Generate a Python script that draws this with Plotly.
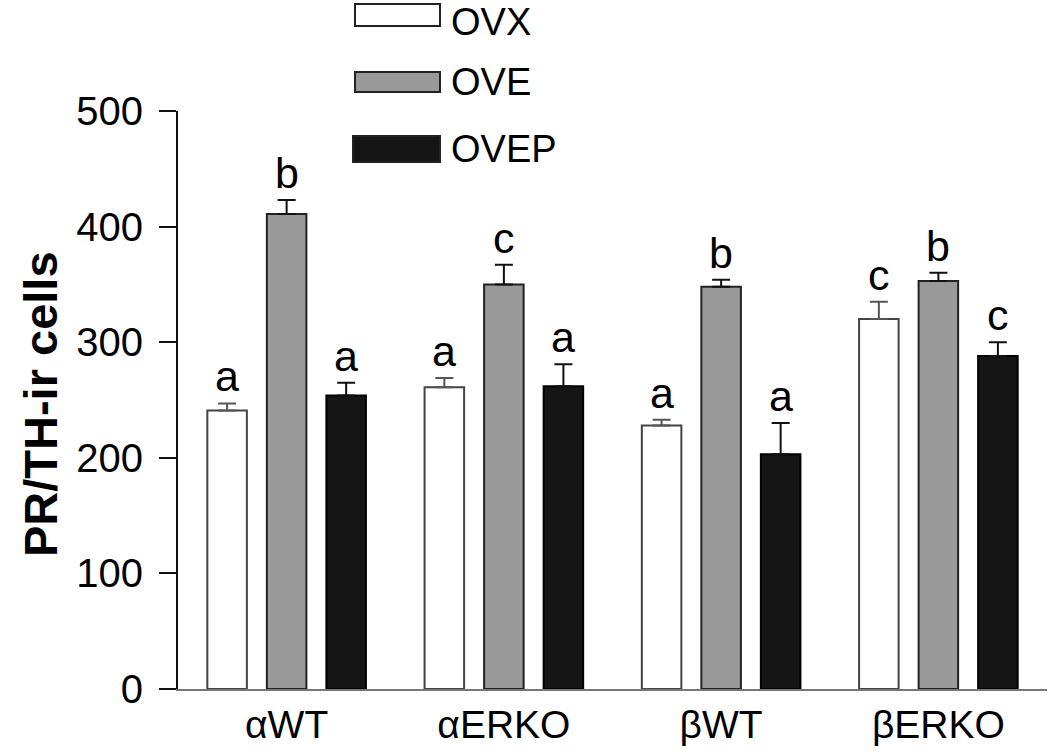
import plotly.graph_objects as go

# ---------------- data ----------------
categories = ["αWT", "αERKO", "βWT", "βERKO"]
series_names = ["OVX", "OVE", "OVEP"]
ovx_values = [241, 261, 228, 320]
ovx_errors = [6, 8, 5, 15]
ove_values = [411, 350, 348, 353]
ove_errors = [12, 17, 6, 7]
ovep_values = [254, 262, 203, 288]
ovep_errors = [11, 19, 27, 12]
ovx_letters = ["a", "a", "a", "c"]
ove_letters = ["b", "c", "b", "b"]
ovep_letters = ["a", "a", "a", "c"]
y_ticks = [0, 100, 200, 300, 400, 500]

# ---------------- styles ----------------
FONT = "Liberation Sans, Arial, Helvetica, sans-serif"
fills = ["#ffffff", "#999999", "#151515"]
outlines = ["#444444", "#222222", "#000000"]
err_colors = ["#555555", "#111111", "#111111"]
SLOT = 0.274
BAR_W = 0.182

values = [ovx_values, ove_values, ovep_values]
errors = [ovx_errors, ove_errors, ovep_errors]
letters = [ovx_letters, ove_letters, ovep_letters]

fig = go.Figure()
annotations = []
for k, name in enumerate(series_names):
    xs = [i + (k - 1) * SLOT for i in range(len(categories))]
    fig.add_trace(go.Bar(
        x=xs, y=values[k], width=BAR_W, name=name,
        marker=dict(color=fills[k], line=dict(color=outlines[k], width=2)),
        error_y=dict(type="data", array=errors[k], arrayminus=[0] * len(errors[k]),
                     symmetric=False, color=err_colors[k], thickness=2, width=9),
        showlegend=False,
    ))
    for x, v, e, t in zip(xs, values[k], errors[k], letters[k]):
        annotations.append(dict(
            x=x, y=v + e, xref="x", yref="y", text=t, showarrow=False,
            yanchor="bottom", yshift=1, font=dict(family=FONT, size=43, color="#000")))

# custom legend (long rectangles like the original)
shapes = []
legend_rows = [((689 - 4) / 578, (689 - 26) / 578),
               ((689 - 72) / 578, (689 - 92) / 578),
               ((689 - 136) / 578, (689 - 162) / 578)]
for k, (top, bot) in enumerate(legend_rows):
    x0 = (355 - 178) / 869 if k < 2 else (353 - 178) / 869
    shapes.append(dict(type="rect", xref="paper", yref="paper", x0=x0, x1=(440 - 178) / 869,
                       y0=bot, y1=top, fillcolor=fills[k],
                       line=dict(color="#222222", width=2)))
    if k == 0:
        ty, anchor = (689 - 0) / 578, "top"
    else:
        ty, anchor = (top + bot) / 2, "middle"
    annotations.append(dict(x=(450 - 178) / 869, y=ty, xref="paper", yref="paper",
                            text=series_names[k], showarrow=False, xanchor="left",
                            yanchor=anchor, borderpad=0,
                            font=dict(family=FONT, size=38, color="#000")))

# y axis title
annotations.append(dict(x=(40 - 178) / 869, y=0.493, xref="paper", yref="paper",
                        text="<b>PR/TH-ir cells</b>", textangle=-90, showarrow=False,
                        xanchor="center", yanchor="middle",
                        font=dict(family=FONT, size=47, color="#000")))

fig.update_layout(
    width=1050, height=754,
    margin=dict(l=178, r=3, t=111, b=65),
    paper_bgcolor="white", plot_bgcolor="white",
    barmode="overlay",
    showlegend=False,
    shapes=shapes,
    annotations=annotations,
    xaxis=dict(range=[-0.5, 3.5], tickmode="array", tickvals=list(range(len(categories))),
               ticktext=categories, showgrid=False, zeroline=False,
               showline=True, linecolor="#777777", linewidth=2, ticks="",
               tickfont=dict(family=FONT, size=39, color="#000"), ticklabelstandoff=0),
    yaxis=dict(range=[0, 500], tickmode="array", tickvals=y_ticks, showgrid=False,
               zeroline=False, showline=True, linecolor="#111111", linewidth=2,
               ticks="outside", ticklen=17, tickwidth=2, tickcolor="#111111",
               tickfont=dict(family=FONT, size=40, color="#000"), ticklabelstandoff=8),
)

fig.write_html("out.html", config={"displayModeBar": False},
               post_script="document.body.style.margin='0px';")
